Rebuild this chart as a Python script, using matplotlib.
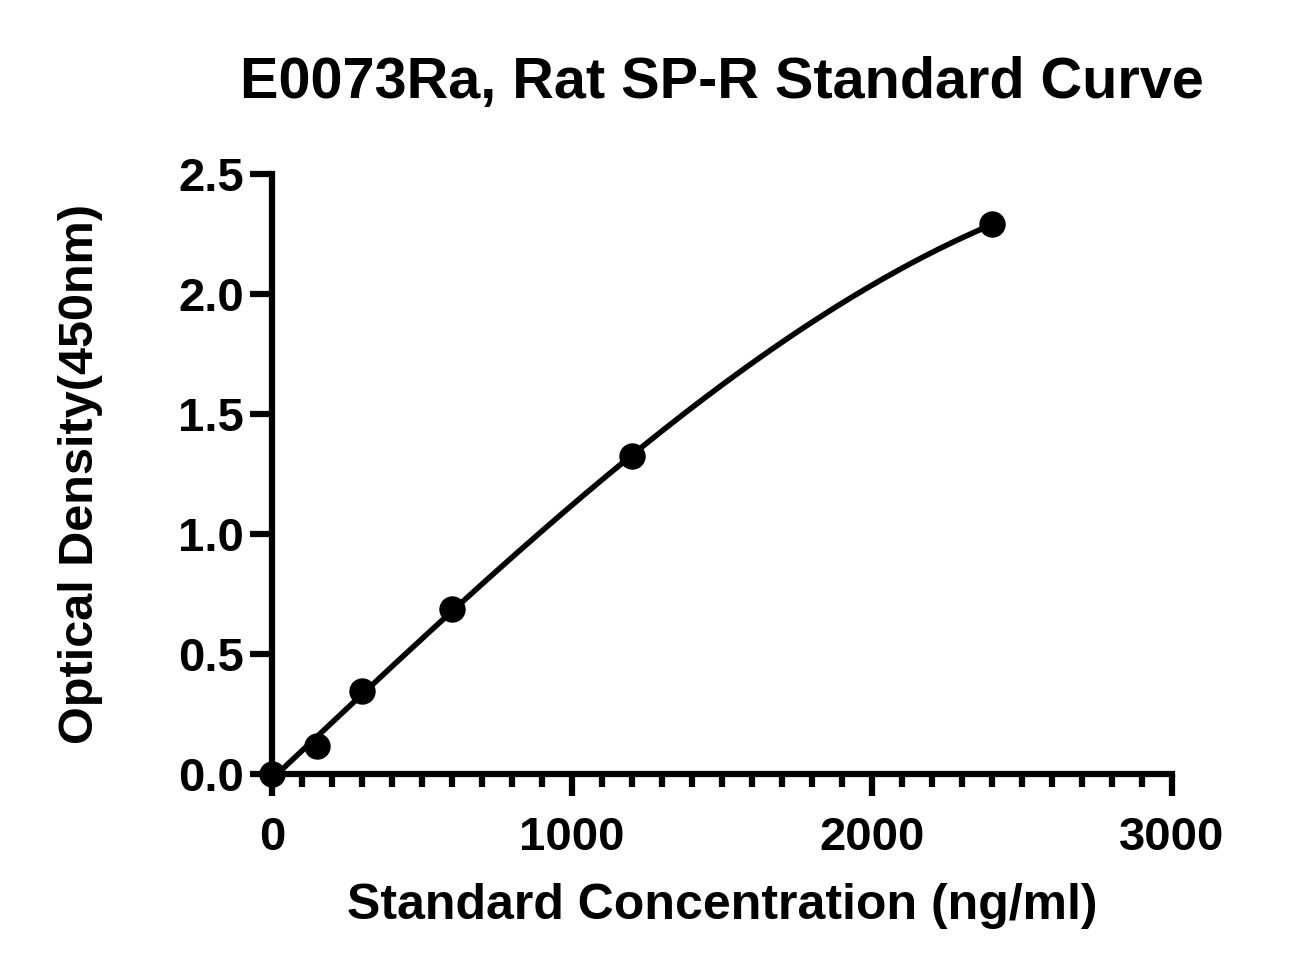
import numpy as np
import matplotlib.pyplot as plt

plt.rcParams['font.family'] = ['Liberation Sans', 'DejaVu Sans']
plt.rcParams['font.weight'] = 'bold'

# standard concentrations (ng/ml) and measured OD at 450nm
conc = [0, 150, 300, 600, 1200, 2400]
od = [0.0, 0.115, 0.346, 0.688, 1.325, 2.29]

x_ticks = [0, 1000, 2000, 3000]
y_ticks = [0.0, 0.5, 1.0, 1.5, 2.0, 2.5]

# smooth fitted curve through the standards
coef = np.polyfit(conc, od, 3)
xs = np.linspace(0, max(conc), 300)
ys = np.polyval(coef, xs)

fig = plt.figure(figsize=(13.11, 9.75), dpi=100)
ax = fig.add_axes([0.2075, 0.2062, 0.6865, 0.6153])

ax.plot(xs, ys, color='black', lw=4, zorder=2)
ax.plot(conc, od, 'o', color='black', ms=18, zorder=3, clip_on=False)

ax.set_xlim(0, 3000)
ax.set_ylim(0, 2.5)
ax.set_xticks(x_ticks)
ax.set_xticks(np.arange(0, 3001, 100), minor=True)
ax.set_yticks(y_ticks)
ax.set_yticklabels(['%.1f' % v for v in y_ticks])

for s in ['top', 'right']:
    ax.spines[s].set_visible(False)
for s in ['left', 'bottom']:
    ax.spines[s].set_linewidth(4.5)

ax.tick_params(axis='both', which='major', length=16, width=4.5, labelsize=34)
ax.tick_params(axis='y', which='major', pad=4)
ax.tick_params(axis='x', which='major', pad=14)
ax.tick_params(axis='x', which='minor', length=9, width=4.5)

ax.set_xlabel('Standard Concentration (ng/ml)', fontsize=36, fontweight='bold', labelpad=17)
ax.set_ylabel('Optical Density(450nm)', fontsize=35, fontweight='bold', labelpad=54)
ax.set_title('E0073Ra, Rat SP-R Standard Curve', fontsize=41.5, fontweight='bold', pad=55, x=0.5)

plt.savefig('out.png', dpi=100)
